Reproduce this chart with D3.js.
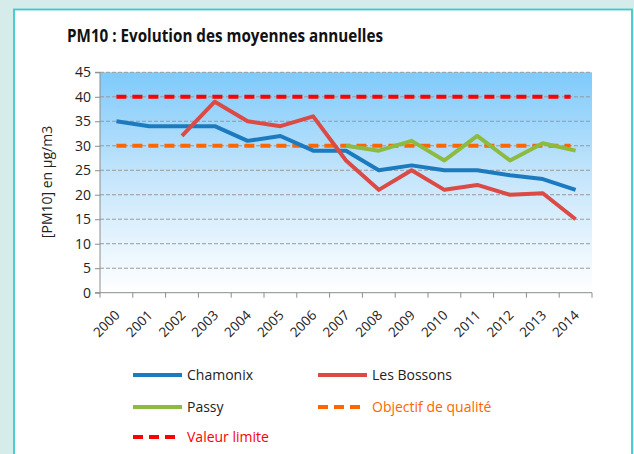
<!DOCTYPE html>
<html>
<head>
<meta charset="utf-8">
<script src="https://cdn.jsdelivr.net/npm/d3@7"></script>
<style>
  html, body { margin: 0; padding: 0; background: #d6ecea; }
  svg { display: block; }
</style>
</head>
<body>
<svg id="chart" width="634" height="454"></svg>
<script>
// Annual mean PM10 concentrations (µg/m3) per station
const years = ["2000","2001","2002","2003","2004","2005","2006","2007","2008","2009","2010","2011","2012","2013","2014"];
const chamonix   = [35, 34, 34, 34, 31, 32, 29, 29, 25, 26, 25, 25, 24, 23.2, 21];
const lesBossons = [null, null, 32, 39, 35, 34, 36, 27, 21, 25, 21, 22, 20, 20.3, 15];
const passy      = [null, null, null, null, null, null, null, 30, 29, 31, 27, 32, 27, 30.5, 29];
const objectifQualite = 30;
const valeurLimite = 40;
const yTicks = [0, 5, 10, 15, 20, 25, 30, 35, 40, 45];

const svg = d3.select("#chart");
const font = "'Open Sans', 'Liberation Sans', sans-serif";

// panel
svg.append("rect").attr("x", 14).attr("y", 9.5).attr("width", 618).attr("height", 460)
  .attr("fill", "#ffffff").attr("stroke", "#3fc7d0").attr("stroke-width", 1.8);

const plot = { left: 100, right: 592, top: 72.3, bottom: 292.7 };

const x = d3.scaleBand().domain(years).range([plot.left, plot.right]);
const y = d3.scaleLinear().domain([0, 45]).range([plot.bottom, plot.top]);
const cx = d => x(d) + x.bandwidth() / 2;

// gradient background
const defs = svg.append("defs");
const grad = defs.append("linearGradient").attr("id", "bg").attr("x1", 0).attr("y1", 0).attr("x2", 0).attr("y2", 1);
grad.append("stop").attr("offset", "0%").attr("stop-color", "#7ecafb");
grad.append("stop").attr("offset", "45%").attr("stop-color", "#c2e4fb");
grad.append("stop").attr("offset", "100%").attr("stop-color", "#ffffff");
svg.append("rect").attr("x", plot.left).attr("y", y(45))
  .attr("width", plot.right - plot.left).attr("height", y(0) - y(45)).attr("fill", "url(#bg)");

// gridlines
svg.append("g").selectAll("line").data(yTicks.filter(t => t > 0)).join("line")
  .attr("x1", plot.left).attr("x2", plot.right)
  .attr("y1", d => y(d)).attr("y2", d => y(d))
  .attr("stroke", "#999999").attr("stroke-width", 1).attr("stroke-dasharray", "4,2");

// y axis
const yAxis = svg.append("g").attr("transform", `translate(${plot.left},0)`)
  .call(d3.axisLeft(y).tickValues(yTicks).tickSize(5).tickPadding(4));
yAxis.select(".domain").attr("stroke", "#8c8c8c").attr("d", `M-5,${y(45)}H0V${y(0)}`);
yAxis.selectAll(".tick line").attr("stroke", "#8c8c8c");
yAxis.selectAll("text").attr("font-family", font).attr("font-size", 14).attr("fill", "#222");

// x axis with ticks at category boundaries
const xg = svg.append("g");
xg.append("line").attr("x1", plot.left - 5).attr("x2", plot.right)
  .attr("y1", y(0)).attr("y2", y(0)).attr("stroke", "#8c8c8c");
xg.selectAll(".bt").data(years.concat(["end"])).join("line")
  .attr("x1", (d, i) => plot.left + i * x.bandwidth())
  .attr("x2", (d, i) => plot.left + i * x.bandwidth())
  .attr("y1", y(0)).attr("y2", y(0) + 5).attr("stroke", "#8c8c8c");
xg.selectAll("text").data(years).join("text")
  .attr("transform", d => `translate(${cx(d) + 1},${y(0) + 20}) rotate(-45)`)
  .attr("text-anchor", "end").attr("dy", "0.35em")
  .attr("font-family", font).attr("font-size", 13.5).attr("fill", "#222")
  .text(d => d);

// axis title
svg.append("text")
  .attr("transform", `translate(52,182) rotate(-90)`)
  .attr("text-anchor", "middle")
  .attr("font-family", font).attr("font-size", 14).attr("fill", "#222")
  .text("[PM10] en µg/m3");

// title
svg.append("text").attr("x", 67).attr("y", 42)
  .attr("font-family", font).attr("font-size", 18).attr("font-weight", "bold").attr("fill", "#111")
  .attr("textLength", 316).attr("lengthAdjust", "spacingAndGlyphs")
  .text("PM10 : Evolution des moyennes annuelles");

// reference lines
const refs = [
  { value: objectifQualite, color: "#ff6600" },
  { value: valeurLimite, color: "#ff0000" }
];
svg.append("g").selectAll("line").data(refs).join("line")
  .attr("x1", cx(years[0])).attr("x2", cx(years[years.length - 1]) - 5)
  .attr("y1", d => y(d.value)).attr("y2", d => y(d.value))
  .attr("stroke", d => d.color).attr("stroke-width", 4)
  .attr("stroke-dasharray", "10,6").attr("stroke-linecap", "butt");

// series
const series = [
  { name: "Passy", values: passy, color: "#8cbb3f" },
  { name: "Chamonix", values: chamonix, color: "#1c7bbf" },
  { name: "Les Bossons", values: lesBossons, color: "#dc4a45" }
];
const line = d3.line()
  .defined(d => d.v !== null)
  .x(d => cx(d.year)).y(d => y(d.v));
svg.append("g").selectAll("path").data(series).join("path")
  .attr("d", s => line(years.map((yr, i) => ({ year: yr, v: s.values[i] }))))
  .attr("fill", "none").attr("stroke", s => s.color).attr("stroke-width", 4)
  .attr("stroke-linejoin", "round");

// legend
const legend = [
  { label: "Chamonix", color: "#1c7bbf", x: 133, y: 375, dashed: false, text: "#222" },
  { label: "Les Bossons", color: "#dc4a45", x: 318, y: 375, dashed: false, text: "#222" },
  { label: "Passy", color: "#8cbb3f", x: 133, y: 407, dashed: false, text: "#222" },
  { label: "Objectif de qualité", color: "#ff6600", x: 318, y: 407, dashed: true, text: "#ff6600" },
  { label: "Valeur limite", color: "#ff0000", x: 133, y: 437, dashed: true, text: "#ff0000" }
];
const lg = svg.append("g").selectAll("g").data(legend).join("g");
lg.append("line")
  .attr("x1", d => d.x).attr("x2", d => d.x + (d.dashed ? 43 : 49))
  .attr("y1", d => d.y).attr("y2", d => d.y)
  .attr("stroke", d => d.color).attr("stroke-width", 4)
  .attr("stroke-dasharray", d => d.dashed ? "10,6" : null);
lg.append("text")
  .attr("x", d => d.x + 54).attr("y", d => d.y).attr("dy", "0.35em")
  .attr("font-family", font).attr("font-size", 14).attr("fill", d => d.text)
  .text(d => d.label);
</script>
</body>
</html>
